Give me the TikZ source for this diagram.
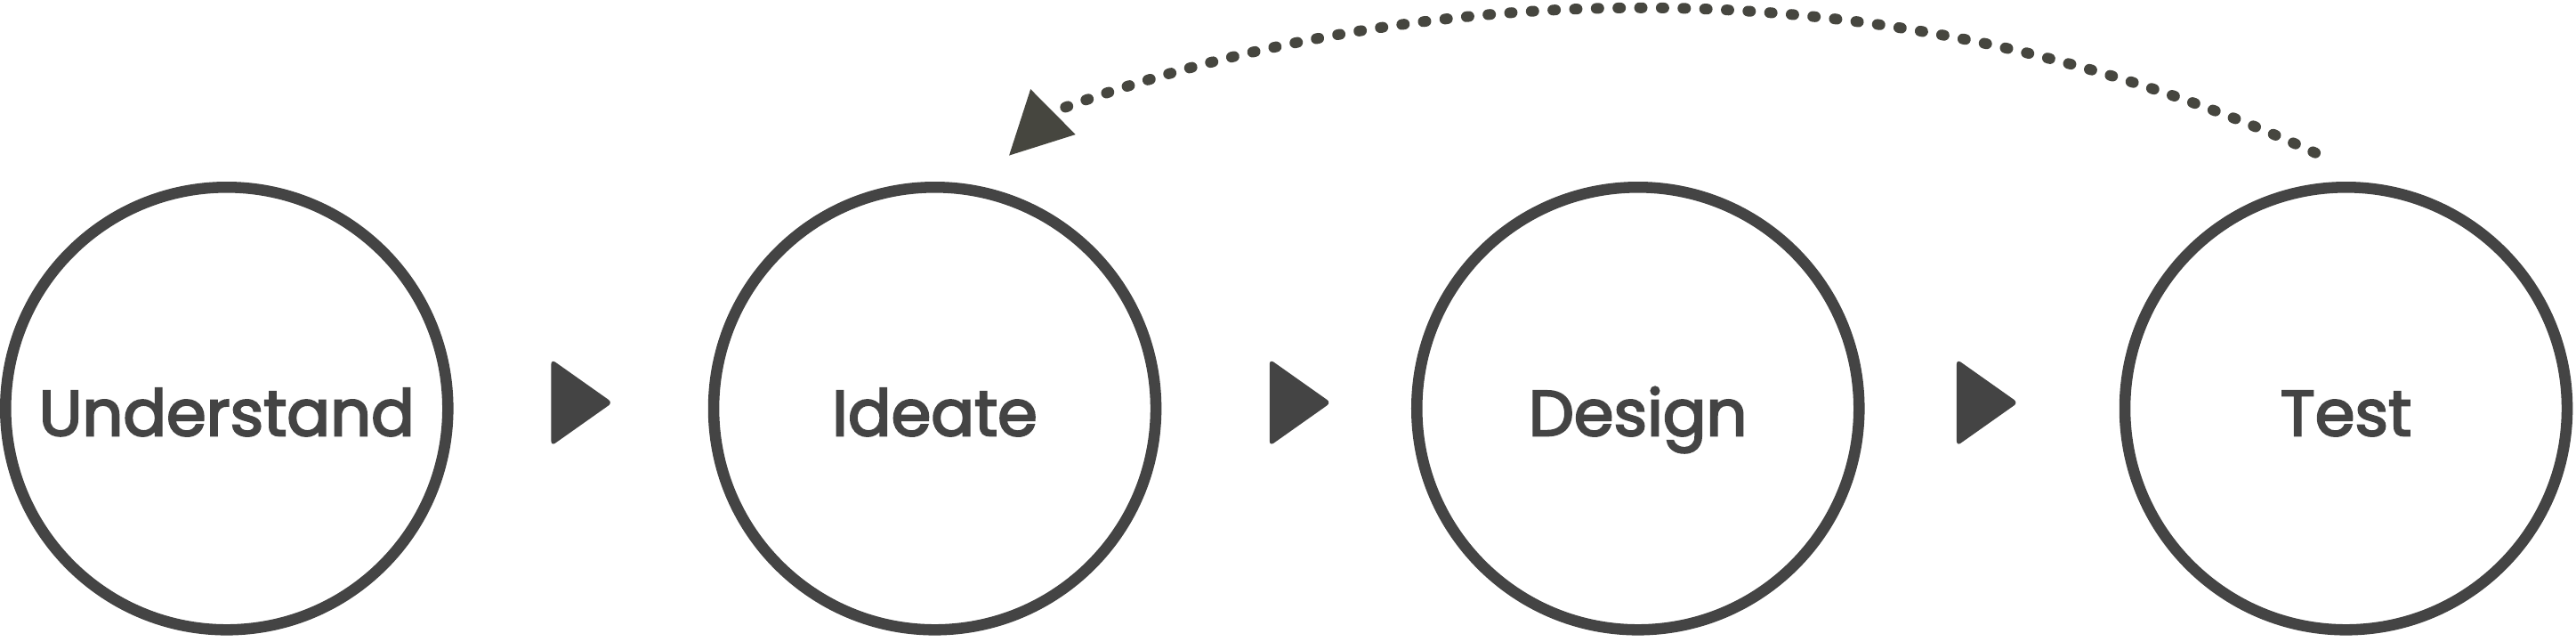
\documentclass[tikz,border=0pt]{standalone}
\usepackage{fontspec}
\setmainfont{Poppins}[FakeBold=3]
\usepackage{xcolor}
\usetikzlibrary{positioning}
\usetikzlibrary{arrows.meta}
\definecolor{ink}{HTML}{444444}
\definecolor{dotink}{HTML}{46463F}
\tikzset{stage/.style={draw=ink,circle,line width=6.8pt,minimum size=269.2pt,
                       text=ink,font=\fontsize{39}{39}\selectfont,
                       text height=33pt,text depth=0pt},
         marker/.style={fill=ink,rounded corners=3pt},
         loopback/.style={draw=dotink,line width=6.5pt,line cap=round,
                          dash pattern=on 1.6pt off 11.6pt,
                          -{Triangle[length=38pt,width=37pt]}},
         }
\begin{document}
\begin{tikzpicture}[x=1pt,y=1pt]
\useasboundingbox (0,0) rectangle (1568,390);
\node[stage] (u) at (138,141.5) {Understand};
\node[stage,right=155pt of u] (i) {Ideate};
\node[stage,right=152pt of i] (d) {Design};
\node[stage,right=155pt of d] (t) {Test};
\foreach \a/\s in {u/59.5,i/65.8,d/56}{
  \coordinate (m\a) at ([shift={(\s,3.6)}]\a.east);
  \path[marker] ([shift={(0,26.4)}]m\a) -- ([shift={(37.4,0)}]m\a)
    -- ([shift={(0,-26.4)}]m\a) -- cycle;
}
\coordinate (from) at ([shift={(-18.7,17.5)}]t.north);
\coordinate (bend) at ([shift={(72,42.5)}]i.north);
\coordinate (back) at ([shift={(45,15.7)}]i.north);
\draw[loopback] (from) .. controls (1138,422) and (848,399) .. (bend) -- (back);
\end{tikzpicture}
\end{document}
